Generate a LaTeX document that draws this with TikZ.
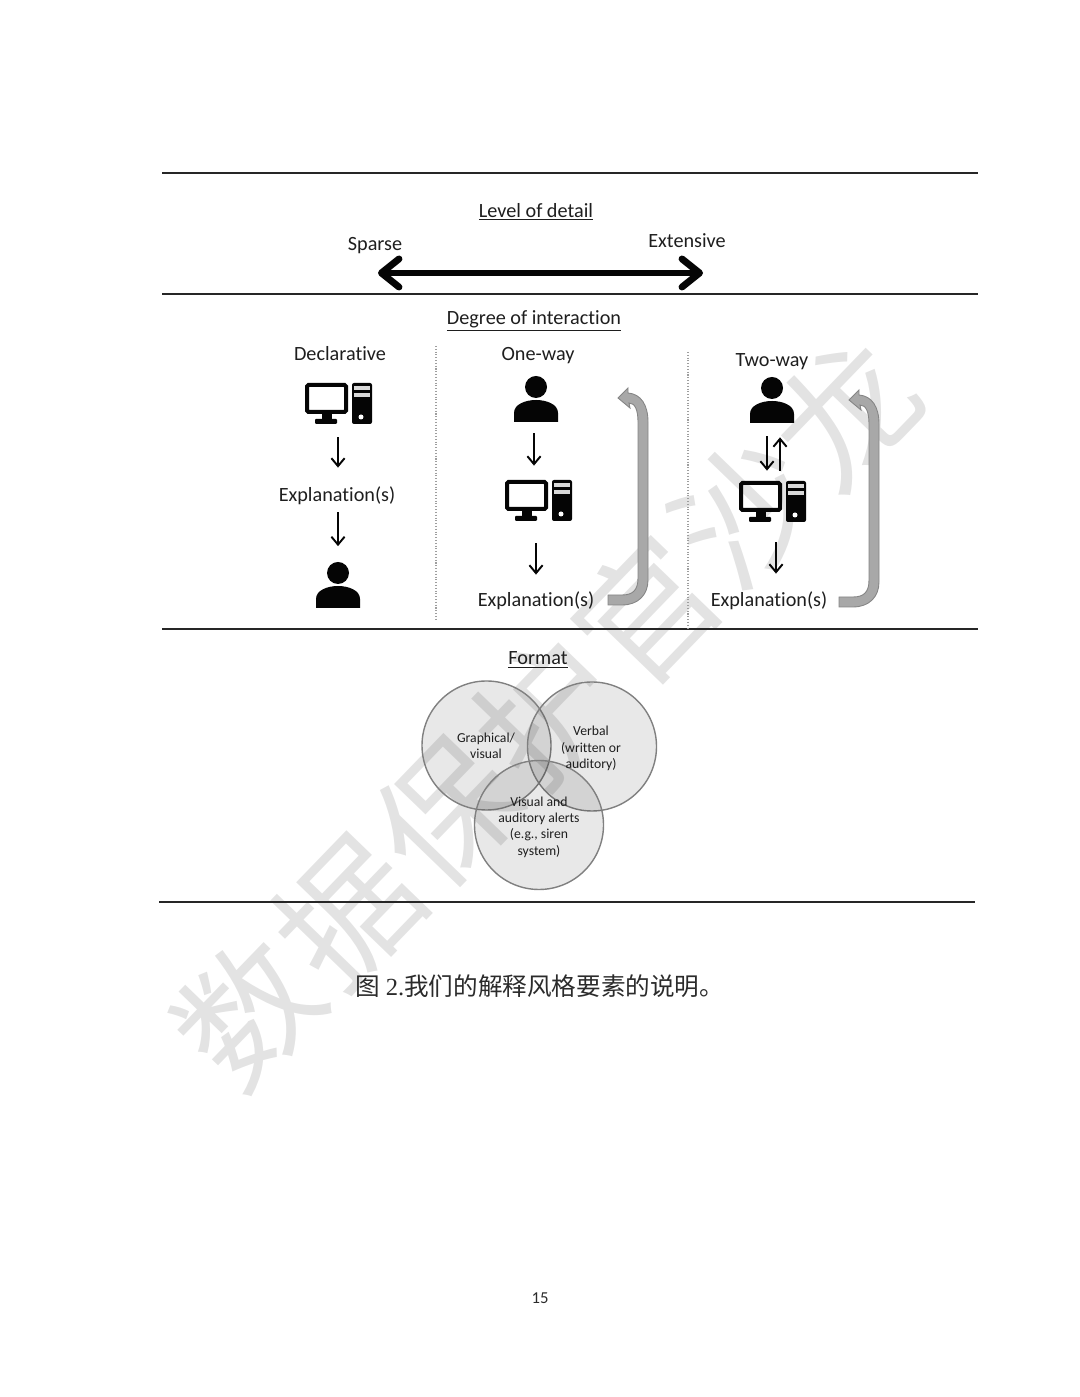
\documentclass[tikz,border=0pt]{standalone}
\usepackage{fontspec}
\setmainfont[Ligatures=NoCommon]{Carlito}
\newfontfamily\cjk{Noto Sans CJK SC}
\newfontfamily\capserif{Liberation Serif}
\usetikzlibrary{calc,arrows.meta}
\definecolor{ink}{gray}{0.02}
\definecolor{rulecol}{gray}{0.15}
\definecolor{soft}{gray}{0.62}
\definecolor{loopfill}{gray}{0.66}
\definecolor{loopedge}{gray}{0.52}
\definecolor{vennedge}{gray}{0.50}
\definecolor{wmark}{gray}{0.89}
\tikzset{
  rulers/.style={rulecol,line width=1.1pt},
  head/.style={font=\fontsize{11.5}{14}\selectfont,inner sep=0pt,text=ink!90},
  iconbox/.style={minimum width=1.36cm,minimum height=0.92cm,inner sep=0pt},
  thinarr/.style={ink,line width=1.1pt,-{Straight Barb[length=4.5pt,width=7.5pt]}},
  venn/.style={circle,minimum size=2.58cm,inner sep=0pt,draw=vennedge,line width=0.8pt,fill=black,fill opacity=0.09},
  vennlabel/.style={inner sep=0pt,align=center,text=ink!90,font=\fontsize{7.8}{9.3}\selectfont},
  computer/.pic={
    \draw[ink,line width=0.08cm,rounded corners=0.03cm] (-0.62,0.36) rectangle (0.16,-0.18);
    \fill[ink] (-0.32,-0.2) rectangle (-0.12,-0.34);
    \fill[ink,rounded corners=0.02cm] (-0.46,-0.32) rectangle (-0.02,-0.42);
    \fill[ink,rounded corners=0.04cm] (0.28,0.4) rectangle (0.68,-0.42);
    \fill[white!85!black] (0.32,0.34) rectangle (0.64,0.26);
    \fill[white!85!black] (0.32,0.2) rectangle (0.64,0.12);
    \fill[white] (0.46,-0.28) circle (0.05);
  },
  person/.pic={
    \fill[ink] (0,0.24) circle (0.22);
    \fill[ink] (-0.44,-0.46) -- (-0.44,-0.28) .. controls (-0.44,-0.1) and (-0.2,-0.02) .. (0,-0.02)
      .. controls (0.2,-0.02) and (0.44,-0.1) .. (0.44,-0.28) -- (0.44,-0.46) -- cycle;
  },
  loopback/.pic={
    \filldraw[fill=loopfill,draw=loopedge,line width=0.5pt] (0,-0.1) -- (0.28,-0.1)
      .. controls (0.6,-0.1) and (0.8,0.1) .. (0.8,0.4) -- (0.8,3.56)
      .. controls (0.8,3.9) and (0.66,4.12) .. (0.4,4.14) -- (0.4,4.24) -- (0.2,4.04) -- (0.44,3.84) -- (0.42,3.94)
      .. controls (0.54,3.94) and (0.6,3.8) .. (0.6,3.56) -- (0.6,0.44)
      .. controls (0.6,0.2) and (0.5,0.1) .. (0.28,0.1) -- (0,0.1) -- cycle;
  },
}
\begin{document}
\begin{tikzpicture}
  \useasboundingbox (0,0) rectangle (21.6,27.94);
  % watermark
  \foreach \ch [count=\i] in {数,据,保,护,官,沙,龙}{
    \node[wmark,rotate=46,inner sep=0pt,font=\cjk\fontsize{78}{78}\selectfont] (wmark\i) at ({4.96+(\i-1)*1.99},{7.7+(\i-1)*2}) {\ch};
  }
  % section rules
  \foreach \y in {24.48,22.06,15.36}{
    \draw[rulers] (3.24,\y) -- (19.56,\y);
  }
  \draw[rulers] (3.18,9.9) -- (19.5,9.9);
  % level of detail
  \node[head] (detail) at (10.72,23.7) {\underline{Level of detail}};
  \node[head] (sparse) at (7.5,23.02) {Sparse};
  \node[head] (extensive) at (13.74,23.12) {Extensive};
  \coordinate (sparseEnd) at (7.56,22.48);
  \coordinate (extensiveEnd) at (14.06,22.48);
  \draw[ink,line width=3.4pt,{Straight Barb[length=10pt,width=16pt,round,line width=3.9pt]}-{Straight Barb[length=10pt,width=16pt,round,line width=3.9pt]}] (sparseEnd) -- (extensiveEnd);
  % degree of interaction
  \node[head] (degree) at (10.68,21.52) {\underline{Degree of interaction}};
  \draw[soft,line width=0.6pt,densely dotted] (8.72,21.02) -- (8.72,15.52);
  \draw[soft,line width=0.6pt,densely dotted] (13.76,20.9) -- (13.76,15.38);
  % declarative column
  \node[head] (declarative) at (6.8,20.86) {Declarative};
  \node[iconbox] (compA) at (6.76,19.88) {};
  \pic at (compA) {computer};
  \node[head] (explA) at (6.74,18.02) {Explanation(s)};
  \node[iconbox] (personA) at (6.76,16.24) {};
  \pic at (personA) {person};
  \draw[thinarr,shorten <=0.22cm,shorten >=0.38cm] (compA.south) -- (compA.south |- explA.north);
  \draw[thinarr,shorten <=0.14cm,shorten >=0.31cm] (personA.north |- explA.south) -- (personA.north);
  % one-way column
  \node[head] (oneway) at (10.76,20.82) {One-way};
  \node[iconbox] (personB) at (10.72,19.96) {};
  \pic at (personB) {person};
  \node[iconbox] (compB) at (10.76,17.94) {};
  \pic at (compB) {computer};
  \node[head] (explB) at (10.72,15.92) {Explanation(s)};
  \draw[thinarr,shorten <=0.22cm,shorten >=0.22cm] ([xshift=-0.04cm]personB.south) -- ([xshift=-0.04cm]personB.south |- compB.north);
  \draw[thinarr,shorten <=0.4cm,shorten >=0.34cm] ([xshift=-0.04cm]compB.south) -- ([xshift=-0.04cm]compB.south |- explB.north);
  \coordinate (loopA) at (12.16,15.94);
  \pic at (loopA) {loopback};
  % two-way column
  \node[head] (twoway) at (15.44,20.7) {Two-way};
  \node[iconbox] (personC) at (15.44,19.94) {};
  \pic at (personC) {person};
  \node[iconbox] (compC) at (15.44,17.92) {};
  \pic at (compC) {computer};
  \node[head] (explC) at (15.38,15.92) {Explanation(s)};
  \draw[thinarr,shorten <=0.26cm,shorten >=0.14cm] ([xshift=-0.1cm]personC.south) -- ([xshift=-0.1cm]personC.south |- compC.north);
  \draw[thinarr,shorten <=0.14cm,shorten >=0.28cm] ([xshift=0.16cm]compC.north) -- ([xshift=0.16cm]compC.north |- personC.south);
  \draw[thinarr,shorten <=0.36cm,shorten >=0.36cm] ([xshift=0.08cm]compC.south) -- ([xshift=0.08cm]compC.south |- explC.north);
  \coordinate (loopB) at (16.78,15.9);
  \pic at (loopB) {loopback};
  % format
  \node[head] (format) at (10.76,14.74) {\underline{Format}};
  \node[venn] (graphical) at (9.73,13.03) {};
  \node[venn] (verbal) at (11.84,13.01) {};
  \node[venn] (alerts) at (10.78,11.44) {};
  \node[vennlabel] (graphicalText) at (9.72,13.03) {Graphical/\\visual};
  \node[vennlabel] (verbalText) at (11.82,12.97) {Verbal\\(written or\\auditory)};
  \node[vennlabel] (alertsText) at (10.78,11.4) {Visual and\\auditory alerts\\(e.g., siren\\system)};
  % caption and page number
  \node[inner sep=0pt,text=ink!85,font=\cjk\fontsize{14}{16}\selectfont] (caption) at (10.8,8.22) {图 {\capserif 2.}我们的解释风格要素的说明。};
  \node[inner sep=0pt,text=ink!85,font=\fontsize{9.5}{11}\selectfont] (pagenum) at (10.8,1.98) {15};
\end{tikzpicture}
\end{document}
